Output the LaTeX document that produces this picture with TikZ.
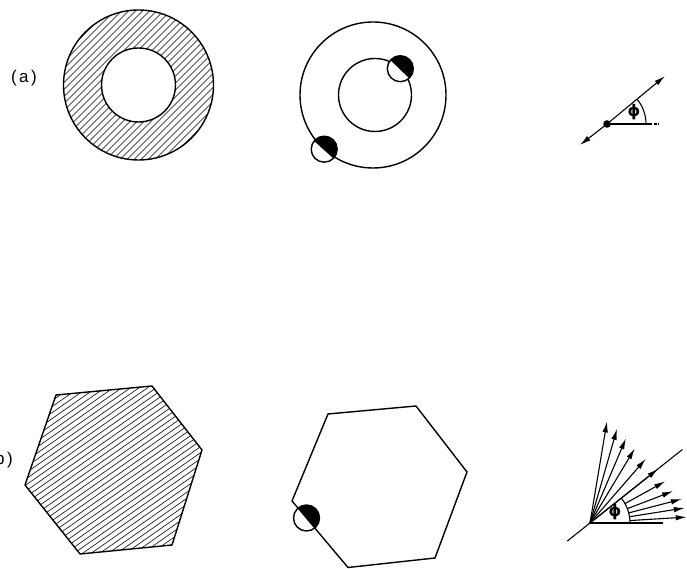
\documentclass[tikz,border=0pt]{standalone}
\usepackage{fontspec}
\newfontfamily\labfont{Liberation Sans}
\newfontfamily\phifont{DejaVu Sans}
\usetikzlibrary{arrows.meta}
\newcommand\mkhalfdisk[2]{%
  \fill[white] (#1) circle (13pt);
  \fill[black] (#1) ++(#2-90:13pt) arc[start angle=#2-90,end angle=#2+90,radius=13pt] -- cycle;
  \draw[outline] (#1) circle (13pt);
  \draw[outline] (#1) ++(#2-90:13pt) -- ++(#2+90:26pt);}
\begin{document}
\begin{tikzpicture}[x=1pt,y=1pt,
  outline/.style={line width=1.4pt,line join=round},
  hatchline/.style={line width=0.6pt},
  thinline/.style={line width=1.1pt},
  vec/.style={line width=1.1pt,-{Latex[length=11pt,width=5.5pt]}},
  lab/.style={font=\labfont\fontsize{17}{17}\selectfont, inner sep=0pt},
  philab/.style={font=\phifont\bfseries\fontsize{16}{16}\selectfont, inner sep=0pt}]
\useasboundingbox (0,0) rectangle (687,569);

% ---------- (a) left: hatched annulus
\coordinate (A) at (138.5,484);
\begin{scope}
  \clip (A) circle (75pt);
  \foreach \k in {-210,-203,...,210}
    \draw[hatchline, shift={(A)}] (-100,\k-100) -- (100,\k+100);
\end{scope}
\fill[white] (A) circle (37pt);
\draw[outline] (A) circle (75pt) (A) circle (37pt);
\node[lab, anchor=east] (la) at (37,491) {(\hspace{2.5pt}a\hspace{2.5pt})};

% ---------- (a) middle: two circles with half-filled discs
\coordinate (B) at (373,474);
\coordinate (Bi) at (375,474);
\draw[outline] (B) circle (73pt) (Bi) circle (36.5pt);
\coordinate (S1) at (400.3,500.3);
\coordinate (S2) at (324.2,419.8);
\mkhalfdisk{S1}{46}
\mkhalfdisk{S2}{48}

% ---------- (a) right: director
\coordinate (D) at (607,445);
\coordinate (Dt) at (665,493);
\coordinate (Db) at (580,424);
\coordinate (Dh) at (649,445);
\coordinate (Dd) at (659,445);
\draw[vec] (D) -- (Dt);
\draw[vec] (D) -- (Db);
\draw[thinline] (D) -- (Dh);
\draw[thinline, dash pattern=on 3pt off 1.5pt] (Dh) -- (Dd);
\draw[thinline] (D) ++(0:39pt) arc[start angle=0,end angle=39.6,radius=39pt];
\fill (D) circle (3.8pt);
\node[philab] (phia) at (634,457) {ϕ};

% ---------- (b) left: hatched hexagon
\coordinate (h1) at (56,174);
\coordinate (h2) at (152,183);
\coordinate (h3) at (202,119);
\coordinate (h4) at (172,24);
\coordinate (h5) at (80,15);
\coordinate (h6) at (25,84);
\begin{scope}
  \clip (h1) -- (h2) -- (h3) -- (h4) -- (h5) -- (h6) -- cycle;
  \foreach \k in {-200,-194,...,200}
    \draw[hatchline, shift={(113,99)}] (-120,\k-84) -- (120,\k+84);
\end{scope}
\draw[outline] (h1) -- (h2) -- (h3) -- (h4) -- (h5) -- (h6) -- cycle;
\node[lab, anchor=east] (lb) at (13,109) {(\hspace{2.5pt}b\hspace{2.5pt})};

% ---------- (b) middle: hexagon with half-filled disc
\coordinate (g1) at (328,155);
\coordinate (g2) at (416,163);
\coordinate (g3) at (467,97);
\coordinate (g4) at (435,11);
\coordinate (g5) at (348,1.5);
\coordinate (g6) at (292,68);
\draw[outline] (g1) -- (g2) -- (g3) -- (g4) -- (g5) -- (g6) -- cycle;
\coordinate (S3) at (306.5,51);
\mkhalfdisk{S3}{40}

% ---------- (b) right: fan of vectors
\coordinate (O) at (590,46);
\draw[thinline] (O) ++(218.5:29pt) -- ++(38.5:147pt);
\coordinate (Oh) at (663,46);
\draw[thinline] (O) -- (Oh);
\draw[thinline] (O) ++(0:40pt) arc[start angle=0,end angle=38.5,radius=40pt];
\foreach \a/\l in {80.5/103,74/98,67/92,59/87,49/85,38.5/87}
  \draw[vec] (O) -- ++(\a:\l pt);
\foreach \a/\l in {29/86,21/89,14.6/95,9/96,3.5/97}
  \draw[vec] (O) ++(\a:40pt) -- ++(\a:\l pt-40pt);
\node[philab] (phib) at (615,57) {ϕ};
\end{tikzpicture}
\end{document}
